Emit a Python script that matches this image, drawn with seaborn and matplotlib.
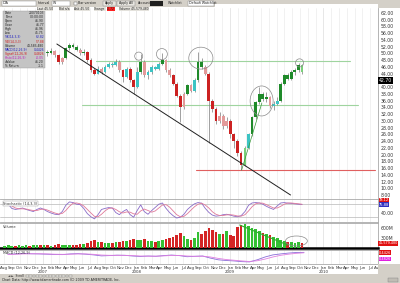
import matplotlib
matplotlib.use("Agg")
import matplotlib.pyplot as plt
import seaborn as sns
import pandas as pd
from matplotlib.patches import Ellipse, Rectangle

sns.set_style("white")
plt.rcParams["font.family"] = ["DejaVu Sans"]

# ---------------- data ----------------
dates = pd.date_range("2006-08-04", periods=84, freq="14D")
opens = [46.5, 47.0, 47.8, 48.5, 48.0, 49.0, 49.5, 50.2, 49.8, 50.5, 51.0,
         50.2, 50.5, 50.0, 50.8, 49.5, 47.5, 48.6, 51.5, 52.5, 52.0,
         51.0, 50.0, 50.5, 48.0, 45.0, 44.0, 45.5, 44.5, 46.0, 47.0,
         46.5, 47.5, 45.0, 43.0, 45.5, 42.0, 40.0, 44.5, 47.5, 43.5,
         44.5, 46.0, 45.5, 47.0, 48.0, 45.0, 43.5, 41.0, 37.5, 34.0,
         38.0, 40.5, 39.0, 42.0, 47.5, 46.0, 44.0, 36.0, 33.5, 30.0,
         31.5, 28.5, 30.0, 26.0, 24.0, 20.5, 17.0, 22.0, 26.0, 31.0,
         35.5, 38.0, 36.5, 37.0, 34.5, 35.0, 36.0, 41.0, 43.5, 42.5, 44.5, 45.0, 46.5]
highs = [48.3, 48.5, 49.0, 49.0, 49.6, 50.0, 50.8, 50.6, 51.0, 51.6, 51.3,
         51.4, 51.0, 51.5, 51.0, 49.8, 49.0, 52.0, 53.0, 53.2, 52.4,
         51.5, 51.2, 50.8, 48.5, 45.6, 46.2, 46.0, 46.5, 47.6, 47.4,
         48.2, 48.0, 45.5, 46.0, 46.0, 42.5, 46.0, 49.8, 48.0, 45.2,
         46.5, 46.4, 47.5, 50.0, 48.4, 45.6, 44.0, 41.5, 38.0, 38.6,
         41.0, 41.0, 42.6, 50.5, 48.5, 46.5, 44.4, 36.5, 34.0, 32.5,
         32.0, 31.0, 30.4, 26.5, 24.5, 21.0, 22.6, 26.5, 31.5, 36.0,
         40.0, 38.6, 38.5, 37.4, 35.8, 37.0, 41.5, 44.0, 44.2, 45.0, 45.6, 47.3, 46.9]
lows = [46.0, 46.6, 47.3, 47.2, 47.6, 48.5, 49.0, 49.2, 49.4, 50.0, 49.8,
        49.6, 49.2, 49.7, 48.8, 46.8, 47.0, 48.4, 51.0, 51.5, 50.6,
        49.5, 49.6, 47.5, 44.6, 43.5, 43.8, 44.0, 44.2, 45.6, 46.0,
        46.2, 44.6, 41.5, 42.6, 41.6, 38.0, 39.6, 44.0, 43.0, 42.5,
        44.0, 45.0, 45.2, 46.6, 44.6, 43.0, 40.5, 37.0, 29.8, 33.5,
        37.6, 38.5, 38.6, 41.6, 45.5, 43.5, 23.5, 32.6, 29.0, 29.5,
        27.5, 28.0, 25.0, 22.0, 19.5, 15.4, 16.5, 21.5, 25.6, 30.5,
        35.0, 36.0, 35.5, 33.8, 33.2, 34.6, 35.6, 40.5, 42.0, 42.2, 43.6, 44.6, 43.8]
closes = [47.0, 47.8, 48.5, 48.0, 49.0, 49.5, 50.2, 49.8, 50.5, 51.0, 50.2,
          50.5, 50.0, 50.8, 49.5, 47.5, 48.6, 51.5, 52.5, 52.0, 51.0,
          50.0, 50.5, 48.0, 45.0, 44.0, 45.5, 44.5, 46.0, 47.0, 46.5,
          47.5, 45.0, 43.0, 45.5, 42.0, 40.0, 44.5, 47.5, 43.5, 44.5,
          46.0, 45.5, 47.0, 48.0, 45.0, 43.5, 41.0, 37.5, 34.0, 38.0,
          40.5, 39.0, 42.0, 47.5, 46.0, 44.0, 36.0, 33.5, 30.0, 31.5,
          28.5, 30.0, 26.0, 24.0, 20.5, 17.0, 22.0, 26.0, 31.0, 35.5,
          38.0, 36.5, 37.0, 34.5, 35.0, 36.0, 41.0, 43.5, 42.5, 44.5, 45.0, 46.5, 44.5]
candle_codes = list("gggpgggpggp" "gggprpgggg" "pgrrrcpccc" "cprcrrcgpc"
                    "cccgpprrrp" "gpcggprrrp" "pprrrrlcgg" "gggpccggggggl")
volumes = [70, 80, 65, 75, 90, 70, 85, 75, 80, 90, 85,
           80, 90, 75, 85, 110, 95, 80, 90, 85, 100,
           120, 110, 150, 210, 230, 180, 170, 150, 160, 140,
           170, 190, 200, 210, 230, 280, 250, 240, 270, 220,
           200, 190, 210, 250, 280, 300, 320, 380, 450, 350,
           260, 240, 300, 480, 430, 520, 600, 550, 480, 420,
           430, 500, 380, 350, 620, 690, 720, 650, 600, 580,
           520, 450, 430, 380, 330, 290, 250, 210, 170, 180, 160, 170, 150]
stoch_k = [86, 80, 60, 55, 58, 62, 55, 50, 45, 55, 62,
           55, 45, 38, 32, 30, 45, 75, 91, 88, 80,
           78, 60, 35, 20, 10, 30, 55, 60, 64, 62,
           40, 30, 45, 55, 30, 18, 50, 77, 45, 32,
           50, 65, 80, 86, 60, 40, 25, 14, 18, 32,
           55, 70, 82, 88, 85, 60, 41, 28, 23, 25,
           30, 32, 28, 23, 20, 25, 45, 75, 86, 88,
           86, 80, 70, 62, 55, 72, 86, 88, 85, 84, 82, 80, 78]
stoch_d = [84, 82, 72, 62, 58, 58, 57, 53, 50, 50, 55,
           57, 52, 45, 38, 33, 36, 50, 70, 85, 86,
           82, 72, 55, 38, 22, 20, 32, 48, 60, 62,
           55, 44, 38, 43, 42, 34, 32, 48, 57, 50,
           42, 48, 62, 76, 78, 66, 48, 30, 20, 22,
           35, 52, 68, 80, 85, 76, 62, 44, 32, 26,
           26, 29, 30, 28, 24, 23, 30, 48, 68, 82,
           86, 85, 78, 70, 62, 62, 70, 80, 86, 86, 84, 82, 80]
macd_dates = pd.date_range("2006-08-01", periods=39, freq="MS")
macd_line = [1.0, 1.2, 1.5, 1.3, 1.2,
             1.0, 0.8, 0.7, 1.2, 1.4, 1.0, 0.5, -0.2, 0.0, 0.3, 0.2, -0.3,
             -0.6, -0.3, -0.5, 0.0, 0.4, 0.0, -0.8, -0.5, -0.3, -1.8, -3.0, -3.5,
             -3.8, -4.3, -4.5, -3.0, -1.0, 0.5, 1.2, 1.8, 2.2, 2.3]
signal_line = [0.8, 1.0, 1.2, 1.3, 1.3,
               1.2, 1.0, 0.9, 1.0, 1.2, 1.2, 0.9, 0.4, 0.2, 0.2, 0.2, 0.0,
               -0.3, -0.4, -0.4, -0.2, 0.1, 0.1, -0.3, -0.5, -0.4, -1.0, -2.0, -2.8,
               -3.3, -3.8, -4.2, -3.7, -2.5, -1.0, 0.2, 1.0, 1.6, 2.0]
month_labels = ["Aug", "Sep", "Oct", "Nov", "Dec", "Jan", "Feb", "Mar", "Apr", "May", "Jun", "Jul"] * 4 + ["Aug"]
year_labels = ["2007", "2008", "2009", "2010"]
price_ticks = list(range(8, 64, 2))

# annotations drawn by the chart author
trend_black = [("2007-02-23", 52.8), ("2009-08-25", 8.0)]
trend_green_up = [("2009-02-15", 15.4), ("2009-05-04", 35.3)]
hlines_green = [(47.75, "2007-07-28", "2010-04-12"), (34.7, "2007-06-01", "2010-05-16")]
hline_red = (15.4, "2008-08-22", "2010-07-19")
circles = [("2008-01-10", 49.2, 1.03, 2.4), ("2008-04-09", 49.8, 1.4, 3.3),
           ("2008-09-09", 48.6, 3.1, 6.5), ("2009-05-03", 35.9, 2.95, 8.9),
           ("2009-09-29", 47.2, 1.03, 2.4)]
vol_trend = [("2009-02-08", 690), ("2009-08-13", 90)]
vol_circle = ("2009-09-17", 210, 2.8, 300)


def tm(d):
    d = pd.Timestamp(d)
    return (d.year - 2006) * 12 + (d.month - 8) + (d.day - 1) / d.days_in_month


W, H = 400, 283


def rect(x0, y0, x1, y1):
    return [x0 / W, 1 - y1 / H, (x1 - x0) / W, (y1 - y0) / H]


XL = (-0.51, 47.95)
GRID = "#ececec"
SP = "#a8a8a8"
colmap = {"g": "#1f8a2a", "l": "#7ad07a", "c": "#3cc4c4", "r": "#cc2222", "p": "#e29a9a"}

fig = plt.figure(figsize=(4.0, 2.83), dpi=100)
fig.patch.set_facecolor("white")

t_c = [tm(d) for d in dates]
df = pd.DataFrame({"t": t_c, "open": opens, "high": highs, "low": lows, "close": closes,
                   "code": candle_codes, "vol": volumes, "k": stoch_k, "d": stoch_d})


def style_panel(ax):
    ax.set_xlim(*XL)
    for s in ["left", "top", "bottom", "right"]:
        ax.spines[s].set_color(SP)
        ax.spines[s].set_linewidth(0.6)
    ax.spines["left"].set_visible(False)
    ax.set_xticks([m for m in range(49)])
    ax.tick_params(axis="x", length=0, labelbottom=False)
    ax.xaxis.grid(True, color=GRID, lw=0.5)
    ax.yaxis.tick_right()
    ax.tick_params(axis="y", length=0, labelsize=3.3, pad=2, labelcolor="#333333")
    ax.set_axisbelow(True)
    for m in [5, 17, 29, 41]:
        ax.axvline(m, color="#d0d0d0", lw=0.5, zorder=0)


# ---------------- price panel ----------------
axp = fig.add_axes(rect(0, 8, 378, 199))
style_panel(axp)
axp.set_ylim(6.81, 63.48)
axp.set_yticks(price_ticks)
axp.set_yticklabels(["" if v == 42 else f"{v:.2f}" for v in price_ticks])
axp.spines["bottom"].set_visible(False)
axp.spines["top"].set_visible(False)

for _, r in df.iterrows():
    c = colmap[r["code"]]
    axp.vlines(r["t"], r["low"], r["high"], color="#7a7a7a", lw=0.5, zorder=2)
    lo, hi = min(r["open"], r["close"]), max(r["open"], r["close"])
    axp.bar(r["t"], max(hi - lo, 0.3), bottom=lo, width=0.36, color=c, lw=0, zorder=3)

(x0, y0), (x1, y1) = trend_black
axp.plot([tm(x0), tm(x1)], [y0, y1], color="#202020", lw=0.7, zorder=4)
(x0, y0), (x1, y1) = trend_green_up
axp.plot([tm(x0), tm(x1)], [y0, y1], color="#3a9a3a", lw=0.5, zorder=4)
for yv, a, b in hlines_green:
    axp.plot([tm(a), tm(b)], [yv, yv], color="#9fd49f", lw=0.8, zorder=1)
yv, a, b = hline_red
axp.plot([tm(a), tm(b)], [yv, yv], color="#e06060", lw=0.8, zorder=1)
for d, pv, w, h in circles:
    axp.add_patch(Ellipse((tm(d), pv), w, h, fill=False, ec="#8a8a8a", lw=0.5, zorder=5))
axp.text(48.1, 42.0, "42.70", fontsize=3.3, color="white", va="center", ha="left",
         bbox=dict(boxstyle="square,pad=0.15", fc="black", ec="none"), clip_on=False)

# ---------------- stochastic panel ----------------
axs = fig.add_axes(rect(0, 199, 378, 222))
style_panel(axs)
axs.set_ylim(-5, 105)
axs.set_yticks([40])
axs.set_yticklabels(["40.00"])
axs.axhline(80, color="#b8b8b8", lw=0.5)
axs.axhline(20, color="#b8b8b8", lw=0.5)
sns.lineplot(data=df, x="t", y="k", ax=axs, color="#8a6cc8", lw=0.6, legend=False)
sns.lineplot(data=df, x="t", y="d", ax=axs, color="#e07a9a", lw=0.6, legend=False)
axs.set_xlabel(""); axs.set_ylabel("")
axs.text(0.008, 0.88, "Stochastic (14,3,3)", transform=axs.transAxes, fontsize=2.6,
         va="top", color="#333333", bbox=dict(boxstyle="square,pad=0.1", fc="white", ec="#999999", lw=0.3))
axs.text(48.1, 99, "78.12", fontsize=2.6, color="white", va="center",
         bbox=dict(boxstyle="square,pad=0.05", fc="#e01010", ec="none"), clip_on=False)
axs.text(48.1, 78, "75.88", fontsize=2.6, color="white", va="center",
         bbox=dict(boxstyle="square,pad=0.05", fc="#3030c0", ec="none"), clip_on=False)

# ---------------- volume panel ----------------
axv = fig.add_axes(rect(0, 223, 378, 248))
style_panel(axv)
axv.set_ylim(0, 750)
axv.set_yticks([300, 600])
axv.set_yticklabels(["300M", "600M"])
vcol = ["#33c033" if c >= o else "#d42424" for o, c in zip(opens, closes)]
axv.bar(df["t"], df["vol"], width=0.34, color=vcol, lw=0, zorder=3)
axv.spines["bottom"].set_color("black")
axv.spines["bottom"].set_linewidth(1.8)
(x0, y0), (x1, y1) = vol_trend
axv.plot([tm(x0), tm(x1)], [y0, y1], color="#2db02d", lw=0.8, zorder=4)
d, vv, w, h = vol_circle
axv.add_patch(Ellipse((tm(d), vv), w, h, fill=False, ec="#8a8a8a", lw=0.5, zorder=5))
axv.text(0.008, 0.9, "Volume", transform=axv.transAxes, fontsize=2.6, va="top", color="#333333")
axv.text(48.1, 140, "45,579,480", fontsize=2.4, color="white", va="center",
         bbox=dict(boxstyle="square,pad=0.1", fc="#e01010", ec="none"), clip_on=False)

# ---------------- MACD panel ----------------
axm = fig.add_axes(rect(0, 250, 378, 264))
style_panel(axm)
axm.set_ylim(-6, 4)
axm.set_yticks([])
mdf = pd.DataFrame({"t": [tm(d) + 0.5 for d in macd_dates], "macd": macd_line, "sig": signal_line})
sns.lineplot(data=mdf, x="t", y="macd", ax=axm, color="#8a6cd8", lw=0.6, legend=False)
sns.lineplot(data=mdf, x="t", y="sig", ax=axm, color="#e080e0", lw=0.6, legend=False)
axm.set_xlabel(""); axm.set_ylabel("")
axm.text(0.008, 0.9, "MACD (12,26,9)", transform=axm.transAxes, fontsize=2.4, va="top", color="#333333")
axm.tick_params(axis="x", labelbottom=True, labelsize=2.9, pad=1.5, labelcolor="#333333")
axm.set_xticklabels(month_labels)
axm.text(48.1, 2.2, "0.4426", fontsize=2.5, color="white", va="center",
         bbox=dict(boxstyle="square,pad=0.05", fc="#e01010", ec="none"), clip_on=False)
axm.text(48.1, -2.6, "0.4826", fontsize=2.5, color="white", va="center",
         bbox=dict(boxstyle="square,pad=0.05", fc="#e020e0", ec="none"), clip_on=False)

# ---------------- overlay: toolbar, data window, status bar ----------------
ov = fig.add_axes([0, 0, 1, 1], zorder=10)
ov.set_xlim(0, W); ov.set_ylim(H, 0); ov.axis("off"); ov.patch.set_alpha(0)
GR = "#d4d0c8"
ov.add_patch(Rectangle((0, 0), 400, 4, fc=GR, ec="none"))
ov.add_patch(Rectangle((0, 0), 215, 7, fc=GR, ec="none"))
ov.add_patch(Rectangle((378, 0), 22, 8, fc=GR, ec="none"))
for (xa, xb, txt) in [(2, 36, "DIA"), (52, 70, "W"), (188, 214, "Default Watchlist")]:
    ov.add_patch(Rectangle((xa, 0.5), xb - xa, 5.5, fc="white", ec="#808080", lw=0.3))
    ov.text(xa + 1, 3.3, txt, fontsize=2.3, va="center", color="#222222")
for (xa, txt) in [(38, "Interval"), (78, "Bar version"), (138, "Account"), (168, "Watchlist")]:
    ov.text(xa, 3.3, txt, fontsize=2.3, va="center", color="#222222")
ov.add_patch(Rectangle((74, 1.5), 3, 3, fc="white", ec="#606060", lw=0.3))
ov.add_patch(Rectangle((150, 0.5), 13, 5.5, fc="#202020", ec="none"))
for (xa, xb, txt) in [(103, 116, "Apply"), (117, 135, "Apply All")]:
    ov.add_patch(Rectangle((xa, 0.5), xb - xa, 5.5, fc="#e8e6e0", ec="#808080", lw=0.3))
    ov.text((xa + xb) / 2, 3.3, txt, fontsize=2.3, va="center", ha="center", color="#222222")

hdr = [(37, "Last 45.50", None), (59, "Bid n/a", None), (74, "Ask 45.50", None),
       (94, "Change", None), (107, "-0.72", "#ff2020"), (119, "Volume 45,579,480", None)]
for xa, txt, bg in hdr:
    ov.text(xa, 8.9, txt, fontsize=2.2, va="center", color="#222222",
            bbox=dict(boxstyle="square,pad=0.1", fc=bg if bg else "#e4e2dc", ec="none"))

ov.add_patch(Rectangle((3, 10.8), 42, 57.2, fc="#c4c4c4", ec="#9a9a9a", lw=0.3))
rows = [("Date", "20070103", "#222222"), ("Time", "00:00:00", "#222222"),
        ("Open", "46.90", "#222222"), ("Close", "46.77", "#222222"),
        ("High", "46.96", "#222222"), ("Low", "45.75", "#222222"),
        ("%K(14,3,3)", "62.82", "#2020c0"), ("%D(14,3,3)", "57.88", "#d02020"),
        ("Volume", "44,583,480", "#222222"), ("MACD(12,26,9)", "0.4426", "#2020c0"),
        ("Signal(12,26,9)", "0.4826", "#d02020"), ("Histo(12,26,9)", "-0.05", "#c020c0"),
        ("#Value", "46.20", "#222222"), ("% Return", "-1.1", "#222222")]
for i, (lab, val, col) in enumerate(rows):
    yy = 13.2 + i * 4.05
    ov.text(5, yy, lab, fontsize=2.2, va="center", color=col)
    ov.text(44, yy, val, fontsize=2.2, va="center", ha="right", color=col)

for t_year, lab in zip([5, 17, 29, 41], year_labels):
    ov.text(4 + 7.8 * t_year, 272, lab, fontsize=2.8, ha="center", va="center", color="#333333")

ov.add_patch(Rectangle((0, 274), 400, 9, fc=GR, ec="none"))
ov.add_patch(Rectangle((378, 264), 22, 10, fc=GR, ec="none"))
ov.text(8, 276, "\u25c4 \u25ba  Scroll", fontsize=2.2, va="center", color="#222222")
for i in range(14):
    ov.add_patch(Rectangle((26 + i * 3.3, 274.6), 2.8, 2.8, fc="#e8e6e0", ec="#707070", lw=0.25))
ov.text(2, 280.5, "Chart Data: http://www.tdameritrade.com (C) 2009 TD AMERITRADE, Inc.",
        fontsize=2.3, va="center", color="#222222")
ov.add_patch(Rectangle((388, 278), 10, 4, fc="#c0bcb4", ec="#808080", lw=0.3))

fig.savefig("out.png", dpi=100)
